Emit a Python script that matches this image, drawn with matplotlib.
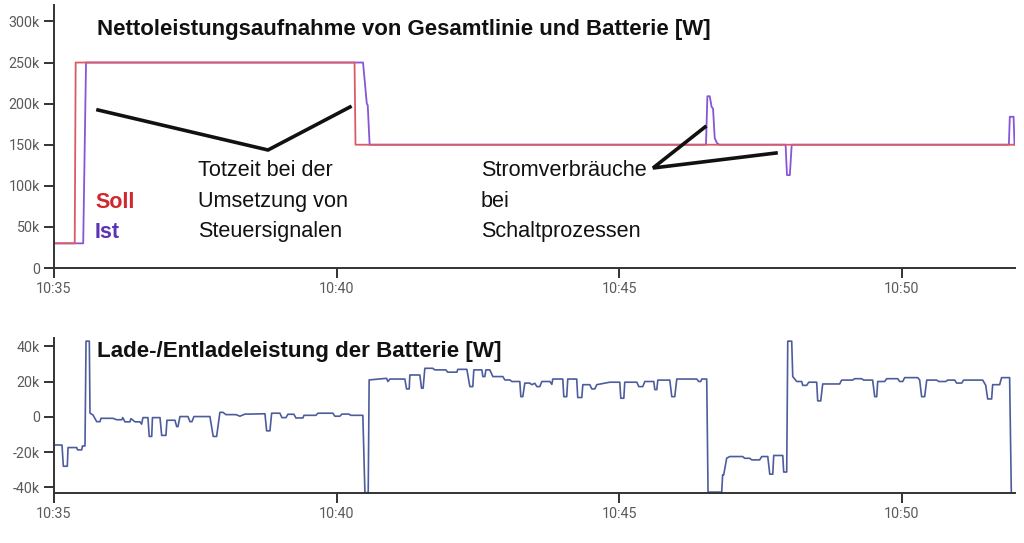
import matplotlib
matplotlib.use("Agg")
import matplotlib.pyplot as plt
import matplotlib.dates as mdates
from matplotlib.ticker import FuncFormatter
from matplotlib.lines import Line2D
import pandas as pd

plt.rcParams['font.family'] = ['Liberation Sans', 'DejaVu Sans']

BASE = pd.Timestamp("2021-01-01 10:35:00")

# ---- Top panel: net power (seconds after 10:35:00, W) ----
soll_t = [0, 22, 23, 319, 320, 1020]
soll_v = [30000, 30000, 250000, 250000, 150000, 150000]

ist_t = [0, 31, 34, 328, 332, 333, 335, 692, 693.5, 696, 698, 699.5, 701.3,
         703.7, 706, 776.5, 778, 781, 783, 1013.5, 1014.5, 1018.5, 1019.5]
ist_v = [30000, 30000, 250000, 250000, 200000, 198000, 150000, 150000, 209000,
         209000, 196000, 194000, 158000, 152000, 150000, 150000, 113000,
         113000, 150000, 150000, 184000, 184000, 150000]

# ---- Bottom panel: battery charge/discharge power (kW) ----
bat_t = [0, 8.5, 9.9, 14.1, 14.9, 24.1, 25, 29.4, 30.2, 32.9, 34, 37.5, 38.2,
         41.4, 45.3, 48.8, 49.9, 62.6, 66.5, 72, 73, 75.3, 80.6, 81.7, 86,
         91.2, 93, 94.4, 99.7, 101.1, 103.7, 104.5, 112.5, 114.3, 118.8,
         119.9, 128.4, 130.2, 131.6, 133.7, 142.2, 144.3, 146.4, 148.5, 165.5,
         169, 172.6, 176.1, 179.3, 182.5, 193.1, 197.3, 202.7, 208, 223.9,
         225.7, 229.2, 231, 239.8, 241.9, 246.2, 248.3, 254.6, 256.8, 264.2,
         265.3, 278, 280.1, 296, 298.1, 303.4, 305.6, 313, 315.1, 327.8, 330,
         333.5, 334.5, 353, 354.4, 356.5, 372.4, 374.2, 377, 377.7, 388.3,
         390.1, 391.8, 393.6, 402.1, 404.2, 415.9, 418, 427.6, 428.6, 438.2,
         441.4, 444.5, 445.6, 454.1, 455.2, 457.3, 458.4, 462.6, 465.8, 476.4,
         478.5, 483.8, 485.9, 494.4, 495.5, 497.6, 499.7, 505, 507.2, 510.3,
         512.5, 515.6, 517.8, 526.3, 528.4, 529.4, 540, 541.1, 544.2, 545.3,
         554.8, 555.9, 560.2, 561.3, 568.7, 570.8, 574, 576.1, 589.9, 600.5,
         601.6, 604.8, 605.8, 618.6, 620.7, 624.9, 627.1, 636.6, 637.7, 639.8,
         640.9, 653.6, 655.7, 658.9, 661, 682.2, 684.3, 686.4, 687.5, 692.8,
         694.2, 708.7, 709.7, 710.8, 714, 717.2, 731, 733.1, 738.4, 740.6,
         749, 751.2, 757.6, 759.7, 762.9, 763.9, 773.5, 774.5, 777.7, 778.8,
         783, 784.1, 788.3, 793.6, 794.7, 798.9, 801.1, 809.5, 810.6, 813.8,
         815.9, 833.9, 836, 847.7, 849.8, 857.2, 859.4, 868.9, 871.1, 873.2,
         874.3, 881.7, 883.8, 895.5, 897.6, 900.8, 902.9, 916.7, 918.8, 920.9,
         924.1, 926.3, 936.9, 939, 946.5, 948.6, 956, 958.1, 963.4, 965.5,
         985.7, 988.9, 991, 995.2, 996.3, 1003.7, 1005.8, 1014.3, 1016.1,
         1018.6]
bat_v = [-15.9, -16, -28, -28, -17.4, -17.4, -18.7, -18.7, -16.5, -16.5, 43, 43,
         2.1, 1.1, -2.7, -2.7, -0.8, -0.8, -1.6, -1.6, -0.4, -2.8, -2.8, -1.0,
         -2.8, -2.8, -4.1, -0.4, -0.4, -11.1, -11.1, -0.4, -0.4, -10.5, -10.5,
         -1.9, -1.9, -5.5, -5.5, 0.2, 0.2, -2.7, -2.7, 0.2, 0.2, -11.1, -11.1,
         2.6, 2.6, 1.3, 1.3, 0.4, 1.6, 1.6, 1.8, -7.9, -7.9, 2.1, 2.1, -0.4,
         -0.4, 1.5, 1.5, -0.6, -0.6, 0.9, 0.9, 2.1, 2.1, 0.4, 0.4, 1.6, 1.6,
         0.9, 0.9, -43, -43, 21, 21.9, 20.1, 21.5, 21.5, 15.9, 15.9, 23.8,
         23.8, 16.3, 16.3, 27.6, 27.6, 26.7, 26.7, 25.4, 25.4, 27, 27, 17.2,
         17.2, 26.7, 26.7, 22.9, 22.9, 26.7, 26.7, 22.9, 22.9, 21, 21, 20.1,
         20.1, 11.5, 11.5, 19.2, 19.2, 18.3, 19.1, 17.2, 17.2, 20.1, 20.1,
         18.5, 21.5, 21.5, 11.5, 11.5, 21.5, 21.5, 11, 11, 18.3, 18.3, 15.9,
         15.9, 18.3, 19.7, 19.7, 10.6, 10.6, 19.7, 19.7, 17.2, 17.2, 20.1,
         20.1, 15.5, 15.5, 20.9, 20.9, 11.5, 11.5, 21.5, 21.5, 20.1, 20.1,
         21.5, 21.5, -42.7, -42.7, -32.9, -32.9, -23.4, -22.5, -22.5, -23.5,
         -23.5, -24.4, -24.4, -22.5, -22.5, -32.5, -32.5, -21.9, -21.9, -31.3,
         -31.3, 43, 43, 22.9, 20.1, 20.1, 17.9, 17.9, 19.7, 19.7, 9.1, 9.1,
         18.7, 18.7, 20.9, 20.9, 21.7, 21.7, 20.9, 20.9, 11.5, 11.5, 20.1,
         20.1, 21.7, 21.7, 20.1, 20.1, 22.3, 22.3, 21, 11.5, 11.5, 20.9, 20.9,
         20.1, 20.1, 20.9, 20.9, 19.2, 19.2, 20.9, 20.9, 18, 10.2, 10.2, 18.3,
         18.3, 22.3, 22.3, -43.5, -43.5]

top_yticks = [0, 50000, 100000, 150000, 200000, 250000, 300000]
bot_yticks = [-40000, -20000, 0, 20000, 40000]


def to_time(secs):
    return BASE + pd.to_timedelta(secs, unit="s")


W, H = 1024, 543
fig = plt.figure(figsize=(W / 100, H / 100), dpi=100)


def fx(px):
    return px / W


def fy(py):
    return 1 - py / H


ax1 = fig.add_axes([fx(54), fy(268), fx(1015) - fx(54), fy(5) - fy(268)])
ax2 = fig.add_axes([fx(54), fy(493), fx(1015) - fx(54), fy(338) - fy(493)])

soll_color = "#dc5a66"
ist_color = "#8656d6"
bat_color = "#4d5c9c"

ax1.plot(to_time(ist_t), ist_v, color=ist_color, lw=1.3)
ax1.plot(to_time(soll_t), soll_v, color=soll_color, lw=1.3)
ax2.plot(to_time(bat_t), [v * 1000 for v in bat_v], color=bat_color, lw=1.2)

ax1.set_ylim(0, 320000)
ax2.set_ylim(-43200, 44800)
ax1.set_yticks(top_yticks)
ax2.set_yticks(bot_yticks)


def kfmt(v, pos):
    if v == 0:
        return "0"
    return f"{int(round(v / 1000))}k"


for ax in (ax1, ax2):
    ax.set_xlim(to_time(0), to_time(1020))
    ax.xaxis.set_major_locator(mdates.MinuteLocator(byminute=range(0, 60, 5)))
    ax.xaxis.set_major_formatter(mdates.DateFormatter("%H:%M"))
    ax.yaxis.set_major_formatter(FuncFormatter(kfmt))
    for s in ("top", "right"):
        ax.spines[s].set_visible(False)
    for s in ("left", "bottom"):
        ax.spines[s].set_color("#333333")
        ax.spines[s].set_linewidth(1.4)
    ax.tick_params(axis="both", length=7, width=1.4, color="#333333",
                   labelcolor="#5a5a5a", labelsize=10.3, pad=3)
    for lab in ax.get_xticklabels() + ax.get_yticklabels():
        lab.set_family(["Roboto", "DejaVu Sans"])
    ax.set_facecolor("none")

# Titles
fig.text(fx(97), fy(29), "Nettoleistungsaufnahme von Gesamtlinie und Batterie [W]",
         fontsize=16, fontweight="bold", ha="left", va="center", color="#111111")
fig.text(fx(97), fy(351), "Lade-/Entladeleistung der Batterie [W]",
         fontsize=16.1, fontweight="bold", ha="left", va="center", color="#111111")

# Legend-like labels
fig.text(fx(95), fy(203), "Soll", fontsize=15.5, fontweight="bold", color="#d0282e",
         ha="left", va="center")
fig.text(fx(95), fy(233), "Ist", fontsize=15.5, fontweight="bold", color="#5b34b4",
         ha="left", va="center")

# Annotation texts
for i, line in enumerate(["Totzeit bei der", "Umsetzung von", "Steuersignalen"]):
    fig.text(fx(198), fy(171 + i * 30.5), line, fontsize=15.6, ha="left",
             va="center", color="#111111")
for i, line in enumerate(["Stromverbräuche", "bei", "Schaltprozessen"]):
    fig.text(fx(481), fy(171 + i * 30.5), line, fontsize=15.6, ha="left",
             va="center", color="#111111")

# Annotation pointer lines
pointer_lines = [
    ([98, 268, 350], [110, 150, 107]),
    ([705, 653, 776], [127, 168, 153]),
]
for xs, ys in pointer_lines:
    fig.add_artist(Line2D([fx(x) for x in xs], [fy(y) for y in ys],
                          transform=fig.transFigure, color="#111111", lw=2.6,
                          solid_joinstyle="miter"))

fig.savefig("out.png", dpi=100)
